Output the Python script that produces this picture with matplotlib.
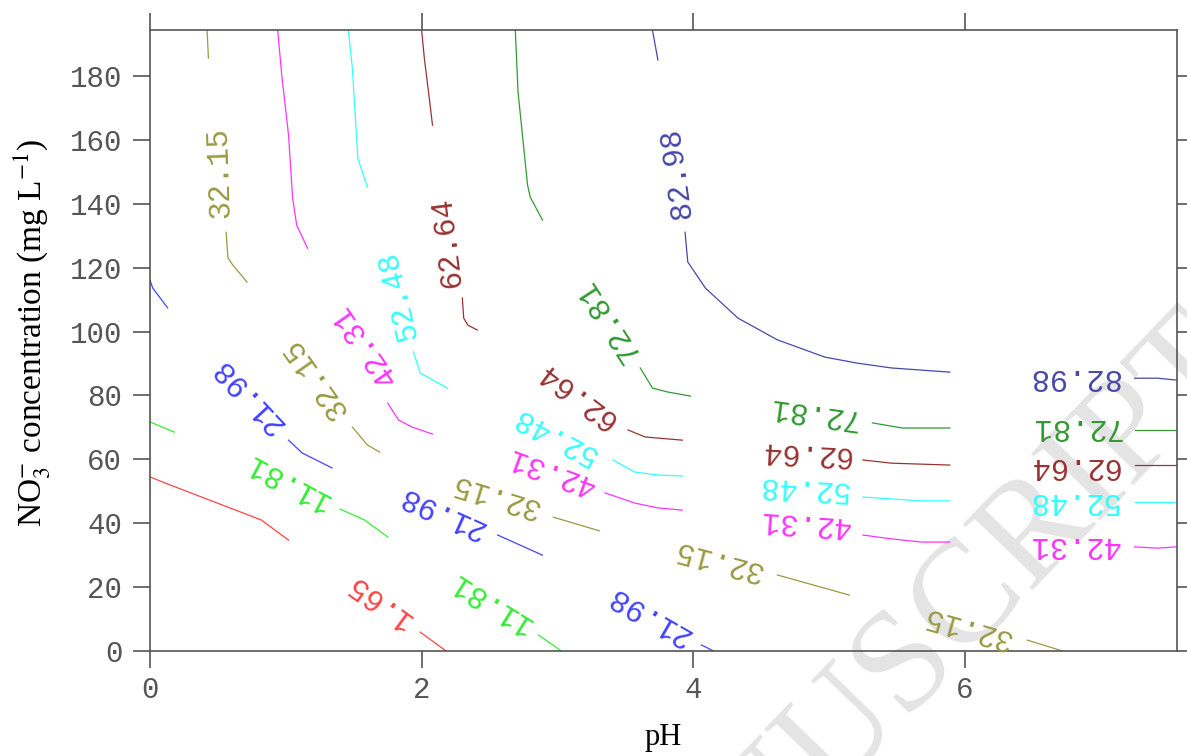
import matplotlib
matplotlib.use('Agg')
import matplotlib.pyplot as plt

# contour levels and their colours
levels = ['1.65', '11.81', '21.98', '32.15', '42.31', '52.48', '62.64', '72.81', '82.98']
colors = ['#ff4444', '#33ee33', '#4444ff', '#9a9a44', '#ff33ff', '#33ffff', '#993333', '#339933', '#4848a8']

# contour pieces (pH, NO3- mg/L) between the labels
lines_1_65 = [
    [(0.0, 54.5), (0.11, 52.6), (0.82, 41.0), (1.02, 34.7)],
    [(1.99, 5.9), (2.18, 0.0)],
]
lines_11_81 = [
    [(0.0, 71.7), (0.18, 68.5)],
    [(1.40, 44.4), (1.58, 41.0), (1.75, 35.7)],
    [(2.86, 5.0), (3.03, 0.0)],
]
lines_21_98 = [
    [(0.0, 116.1), (0.02, 113.6), (0.13, 107.4)],
    [(1.02, 66.0), (1.12, 62.0), (1.34, 57.3)],
    [(2.56, 36.3), (2.89, 30.0)],
    [(4.06, 1.9), (4.15, 0.0)],
]
lines_32_15 = [
    [(0.42, 194.4), (0.43, 185.6)],
    [(0.56, 131.1), (0.574, 123.0), (0.61, 120.8), (0.714, 115.5)],
    [(1.49, 70.1), (1.60, 64.5), (1.69, 62.3)],
    [(2.97, 41.9), (3.31, 37.6)],
    [(4.62, 23.8), (5.15, 17.5)],
    [(6.46, 3.4), (6.72, 0.0)],
]
lines_42_31 = [
    [(0.94, 194.4), (0.97, 180.3), (1.02, 161.5), (1.05, 141.8), (1.08, 133.3), (1.16, 126.1)],
    [(1.75, 77.6), (1.83, 72.3), (1.93, 70.1), (2.08, 67.9)],
    [(3.35, 49.5), (3.57, 46.3), (3.74, 44.8), (3.92, 44.1)],
    [(5.25, 36.3), (5.46, 35.1), (5.68, 34.1), (5.89, 34.1)],
    [(7.25, 32.6), (7.42, 32.2), (7.56, 32.6)],
]
lines_52_48 = [
    [(1.46, 194.4), (1.49, 182.5), (1.53, 154.3), (1.60, 145.2)],
    [(1.94, 93.6), (1.99, 87.0), (2.19, 82.3)],
    [(3.41, 59.8), (3.57, 56.0), (3.74, 55.1), (3.92, 54.8)],
    [(5.25, 48.2), (5.46, 47.6), (5.68, 47.0), (5.89, 47.0)],
    [(7.25, 46.6), (7.56, 46.6)],
]
lines_62_64 = [
    [(2.0, 194.4), (2.02, 185.6), (2.06, 171.8), (2.08, 164.6)],
    [(2.30, 110.5), (2.31, 104.2), (2.34, 102.0), (2.41, 100.5)],
    [(3.52, 69.2), (3.645, 67.0), (3.92, 66.0)],
    [(5.25, 59.8), (5.46, 58.8), (5.89, 58.2)],
    [(7.25, 58.2), (7.56, 58.2)],
]
lines_72_81 = [
    [(2.69, 194.4), (2.71, 175.0), (2.78, 145.9), (2.80, 142.1), (2.89, 134.9)],
    [(3.61, 88.6), (3.70, 82.3), (3.81, 81.1), (3.98, 79.8)],
    [(5.32, 71.4), (5.54, 69.8), (5.89, 69.8)],
    [(7.25, 69.2), (7.56, 69.2)],
]
lines_82_98 = [
    [(3.70, 194.4), (3.74, 185.0)],
    [(3.94, 131.1), (3.96, 121.8), (4.09, 113.6), (4.33, 104.2), (4.62, 97.4),
     (4.97, 92.0), (5.21, 90.1), (5.46, 88.6), (5.89, 87.3)],
    [(7.25, 85.4), (7.42, 85.4), (7.56, 84.8)],
]

# where the level labels sit (pH, NO3-, text angle)
labels_1_65 = [(1.68, 15.6, 144)]
labels_11_81 = [(1.01, 52.9, 152), (2.50, 15.3, 148)]
labels_21_98 = [(0.72, 80.1, 133), (2.14, 43.5, 156), (3.67, 11.3, 150)]
labels_32_15 = [(0.51, 149.6, 92), (1.22, 85.4, 125), (2.54, 48.8, 163), (4.18, 28.5, 165), (6.02, 7.5, 164)]
labels_42_31 = [(1.58, 95.8, 125), (2.95, 56.3, 160), (4.82, 40.1, 176), (6.80, 33.2, 180)]
labels_52_48 = [(1.83, 111.1, 104), (2.98, 67.3, 152), (4.81, 51.0, 177), (6.80, 46.9, 180)]
labels_62_64 = [(2.19, 128.0, 97), (3.14, 80.1, 143), (4.82, 62.0, 177), (6.80, 57.9, 180)]
labels_72_81 = [(3.37, 103.6, 123), (4.88, 74.5, 172), (6.81, 70.1, 180)]
labels_82_98 = [(3.88, 149.6, 98), (6.80, 85.8, 180)]

all_lines = [lines_1_65, lines_11_81, lines_21_98, lines_32_15, lines_42_31,
             lines_52_48, lines_62_64, lines_72_81, lines_82_98]
all_labels = [labels_1_65, labels_11_81, labels_21_98, labels_32_15, labels_42_31,
              labels_52_48, labels_62_64, labels_72_81, labels_82_98]

xticks = [0, 2, 4, 6]
yticks = list(range(0, 181, 20))

plt.rcParams['mathtext.fontset'] = 'stix'

fig = plt.figure(figsize=(11.87, 7.56), dpi=100)
ax = fig.add_axes([0.1264, 0.1389, 0.8652, 0.8214])
ax.set_facecolor('none')

# faint watermark behind the plot (cut by the page edge, as in the original)
fig.text(0.755, 0.105, 'MANUSCRIPT', fontsize=105, fontfamily='Liberation Serif',
         color='#e4e4e4', rotation=46, rotation_mode='anchor',
         ha='center', va='center', zorder=-1)

for lev, col, segs, labs in zip(levels, colors, all_lines, all_labels):
    for seg in segs:
        xs = [p[0] for p in seg]
        ys = [p[1] for p in seg]
        ax.plot(xs, ys, color=col, lw=0.9)
    for x, y, rot in labs:
        ax.text(x, y, lev, color=col, rotation=rot, rotation_mode='anchor',
                ha='center', va='center', fontfamily='Liberation Mono', fontsize=22)

ax.set_xlim(0, 7.563)
ax.set_ylim(0, 194.4)
ax.set_xticks(xticks)
ax.set_yticks(yticks)

for sp in ax.spines.values():
    sp.set_color('#555555')
    sp.set_linewidth(1.2)

ax.tick_params(direction='out', length=12, width=1.2, color='#555555',
               top=True, right=True, labelcolor='#555555', labelsize=21,
               labelfontfamily='Liberation Mono')
ax.tick_params(axis='y', pad=8)
ax.tick_params(axis='x', pad=6)

ax.set_xlabel('pH', fontsize=22, fontfamily='Liberation Serif', labelpad=14)
fig.text(0.027, 0.56, r'NO$_3^{-}$ concentration (mg L$^{-1}$)', rotation=90,
         fontsize=24, fontfamily='Liberation Serif', ha='center', va='center')

fig.savefig('out.png', dpi=100)
